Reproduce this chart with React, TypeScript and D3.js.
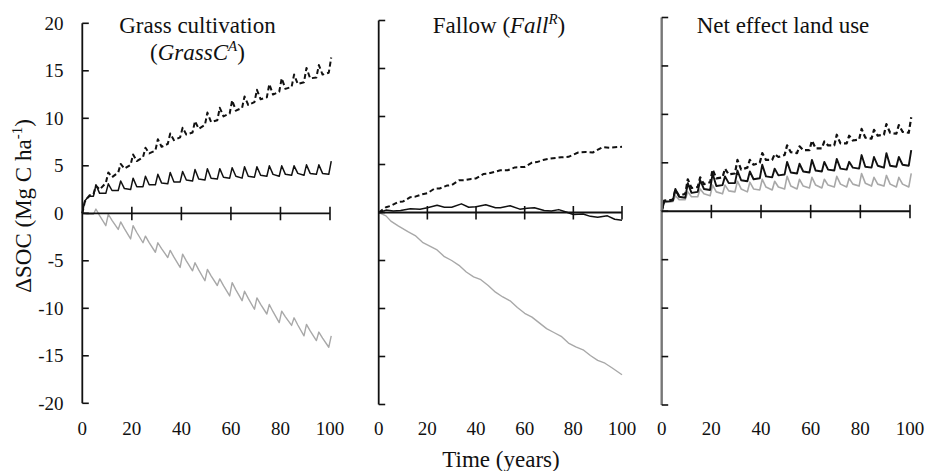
import React from 'react';
import * as d3 from 'd3';

// ---------- shared axis data ----------
const PEAK_YEARS = [5, 10, 15, 20, 25, 30, 35, 40, 45, 50, 55, 60, 65, 70, 75, 80, 85, 90, 95, 100];
const X_TICKS = [0, 20, 40, 60, 80, 100];
const X_TICK_MARKS = [20, 40, 60, 80, 100];
const Y_TICKS = [-20, -15, -10, -5, 0, 5, 10, 15, 20];

// ---------- Grass cultivation (GrassC^A) ----------
const grassDashedEarlyYears = [0, 1, 2, 3];
const grassDashedEarly = [0, 1.2, 1.6, 1.9];
const grassDashedTrough = [2.0, 3.2, 4.3, 5.1, 5.9, 6.6, 7.3, 8.0, 8.5, 9.3, 9.8, 10.5, 11.1, 11.7, 12.2, 12.8, 13.3, 13.8, 14.3, 14.8];
const grassDashedPeak = [2.9, 4.3, 5.2, 6.2, 6.9, 7.8, 8.4, 9.0, 9.7, 10.6, 11.1, 11.9, 12.3, 13.0, 13.6, 14.2, 14.6, 15.3, 15.6, 16.4];
const grassDashedAfter = [2.5, 3.8, 4.7, 5.5, 6.3, 7.0, 7.7, 8.3, 8.9, 9.6, 10.2, 10.8, 11.4, 12.0, 12.5, 13.1, 13.6, 14.2, 14.6];

const grassSolidEarlyYears = [0, 1, 2, 3];
const grassSolidEarly = [0, 1.3, 1.6, 1.8];
const grassSolidTrough = [1.8, 2.1, 2.4, 2.5, 2.8, 3.0, 3.1, 3.3, 3.4, 3.5, 3.6, 3.7, 3.7, 3.8, 3.9, 3.9, 4.0, 4.0, 4.1, 4.1];
const grassSolidPeak = [3.0, 3.1, 3.4, 3.7, 3.9, 4.1, 4.3, 4.4, 4.6, 4.7, 4.7, 4.8, 4.9, 4.9, 5.0, 5.0, 5.0, 5.1, 5.1, 5.5];
const grassSolidAfter = [2.1, 2.4, 2.6, 2.8, 3.0, 3.2, 3.3, 3.5, 3.6, 3.7, 3.8, 3.9, 3.9, 4.0, 4.1, 4.1, 4.2, 4.2, 4.2];

const grassGrayEarlyYears = [0, 2];
const grassGrayEarly = [0, -0.1];
const grassGrayTrough = [-0.1, -1.3, -1.7, -2.7, -3.1, -4.1, -4.65, -5.7, -6.05, -7.1, -7.6, -8.7, -9.2, -10.1, -10.6, -11.5, -11.8, -12.9, -13.4, -14.1];
const grassGrayPeak = [0.45, -0.1, -0.9, -1.3, -2.4, -3.1, -3.9, -4.3, -5.2, -5.9, -6.9, -7.3, -8.2, -8.9, -9.6, -10.3, -11.0, -11.7, -12.5, -12.9];
const grassGrayAfter = [-0.25, -0.74, -1.62, -2.02, -3.08, -3.72, -4.62, -5.0, -5.96, -6.58, -7.62, -8.06, -8.96, -9.58, -10.36, -10.9, -11.76, -12.38, -13.14];

// ---------- Fallow (Fall^R) ----------
const fallDashedYears = [0, 3, 5, 8, 10, 13, 15, 18, 20, 23, 25, 28, 30, 33, 35, 38, 40, 43, 45, 50, 53, 56, 60, 63, 65, 68, 70, 75, 78, 82, 85, 88, 92, 95, 100];
const fallDashed = [0, 0.55, 0.7, 1.1, 1.15, 1.6, 1.65, 1.9, 2.0, 2.5, 2.5, 2.8, 2.85, 3.35, 3.35, 3.5, 3.55, 4.0, 4.05, 4.4, 4.4, 4.7, 4.75, 5.2, 5.25, 5.5, 5.6, 5.75, 5.8, 6.25, 6.3, 6.25, 6.8, 6.75, 6.85];

const fallSolidYears = [0, 3, 6, 9, 13, 17, 20, 24, 27, 30, 34, 37, 40, 44, 48, 50, 54, 58, 61, 64, 68, 71, 74, 77, 80, 84, 87, 90, 94, 97, 100];
const fallSolid = [0, 0.25, 0.15, 0.2, 0.4, 0.35, 0.5, 0.75, 0.55, 0.55, 0.9, 0.55, 0.6, 0.8, 0.5, 0.5, 0.7, 0.35, 0.45, 0.5, 0.2, 0.15, 0.3, 0.05, -0.2, -0.15, -0.4, -0.5, -0.35, -0.7, -0.8];

const fallGrayYears = [0, 3, 5, 8, 12, 15, 18, 21, 24, 27, 30, 33, 36, 39, 42, 45, 48, 51, 54, 57, 60, 63, 66, 69, 72, 75, 78, 81, 84, 87, 90, 93, 96, 100];
const fallGray = [0, -0.35, -0.9, -1.4, -2.0, -2.4, -3.1, -3.5, -3.9, -4.6, -5.0, -5.5, -6.2, -6.7, -7.0, -7.6, -8.3, -8.8, -9.2, -9.9, -10.5, -10.9, -11.5, -12.1, -12.5, -12.9, -13.6, -14.0, -14.3, -14.9, -15.4, -15.7, -16.2, -16.9];

// ---------- Net effect land use ----------
const netDashedEarlyYears = [0, 1, 3.5];
const netDashedEarly = [0, 1.1, 1.15];
const netDashedTrough = [1.2, 1.8, 2.5, 3.0, 3.5, 3.9, 4.5, 5.0, 5.3, 5.8, 6.0, 6.3, 6.5, 6.8, 7.0, 7.4, 7.5, 7.9, 8.0, 8.1];
const netDashedPeak = [2.2, 3.3, 3.5, 4.3, 4.4, 5.3, 5.3, 6.0, 5.9, 6.8, 6.7, 7.3, 7.2, 7.9, 7.8, 8.5, 8.4, 9.0, 8.9, 9.7];
const netDashedAfter = [1.6, 2.4, 2.8, 3.4, 3.8, 4.3, 4.8, 5.3, 5.6, 6.1, 6.3, 6.5, 6.8, 7.0, 7.3, 7.6, 7.8, 8.1, 8.2];

const netSolidEarlyYears = [0, 1, 3.5];
const netSolidEarly = [0, 1.0, 1.05];
const netSolidTrough = [1.1, 1.4, 2.0, 2.2, 2.7, 2.9, 3.1, 3.4, 3.5, 3.8, 3.9, 4.0, 4.1, 4.2, 4.3, 4.4, 4.5, 4.5, 4.6, 4.7];
const netSolidPeak = [2.3, 2.9, 3.2, 3.9, 3.6, 4.2, 4.1, 4.8, 4.4, 5.1, 4.9, 5.3, 5.1, 5.4, 5.1, 5.8, 5.6, 6.0, 5.6, 6.3];
const netSolidAfter = [1.5, 1.9, 2.3, 2.6, 2.9, 3.2, 3.3, 3.6, 3.7, 4.0, 4.1, 4.2, 4.3, 4.4, 4.5, 4.6, 4.7, 4.7, 4.8];

const netGrayEarlyYears = [0, 1, 3.5];
const netGrayEarly = [0, 0.9, 0.95];
const netGrayTrough = [1.0, 1.2, 1.5, 1.6, 1.8, 2.0, 2.0, 2.2, 2.2, 2.3, 2.3, 2.4, 2.4, 2.5, 2.5, 2.6, 2.6, 2.6, 2.5, 2.5];
const netGrayPeak = [1.6, 2.0, 2.3, 2.7, 2.7, 3.1, 3.0, 3.3, 3.1, 3.6, 3.3, 3.5, 3.3, 3.6, 3.4, 3.9, 3.5, 3.7, 3.5, 3.9];
const netGrayAfter = [1.2, 1.5, 1.8, 2.0, 2.1, 2.3, 2.3, 2.5, 2.5, 2.6, 2.6, 2.7, 2.7, 2.8, 2.8, 2.9, 2.8, 2.8, 2.8];

// ---------- helpers ----------
type Pt = [number, number];

function sawPoints(earlyYears: number[], early: number[], trough: number[], peak: number[], after: number[]): Pt[] {
  const pts: Pt[] = earlyYears.map((y, i) => [y, early[i]] as Pt);
  PEAK_YEARS.forEach((p, i) => {
    pts.push([p - 0.5, trough[i]]);
    pts.push([p + 0.5, peak[i]]);
    if (i < after.length) pts.push([p + 2, after[i]]);
  });
  return pts;
}

function zipPoints(years: number[], vals: number[]): Pt[] {
  return years.map((y, i) => [y, vals[i]] as Pt);
}

const FONT = "'Liberation Serif', 'Times New Roman', Times, serif";
const GRAY = '#a8a8a8';

type SeriesDef = { pts: Pt[]; color: string; width: number; dash?: string };
type PanelDef = {
  x0: number; x1: number; yBottom: number; yTop: number;
  axisColor: string; axisWidth: number;
  series: SeriesDef[];
};

const panels: PanelDef[] = [
  {
    x0: 82.3, x1: 330, yBottom: 403.3, yTop: 23.3, axisColor: '#111', axisWidth: 1.8,
    series: [
      { pts: sawPoints(grassGrayEarlyYears, grassGrayEarly, grassGrayTrough, grassGrayPeak, grassGrayAfter), color: GRAY, width: 1.4 },
      { pts: sawPoints(grassSolidEarlyYears, grassSolidEarly, grassSolidTrough, grassSolidPeak, grassSolidAfter), color: '#111', width: 1.5 },
      { pts: sawPoints(grassDashedEarlyYears, grassDashedEarly, grassDashedTrough, grassDashedPeak, grassDashedAfter), color: '#111', width: 2, dash: '5,3' },
    ],
  },
  {
    x0: 378.7, x1: 622, yBottom: 404.5, yTop: 20.5, axisColor: '#111', axisWidth: 1.8,
    series: [
      { pts: zipPoints(fallGrayYears, fallGray), color: GRAY, width: 1.4 },
      { pts: zipPoints(fallSolidYears, fallSolid), color: '#111', width: 1.5 },
      { pts: zipPoints(fallDashedYears, fallDashed), color: '#111', width: 2, dash: '5,3' },
    ],
  },
  {
    x0: 661.7, x1: 910, yBottom: 405, yTop: 17.5, axisColor: '#777', axisWidth: 2.4,
    series: [
      { pts: sawPoints(netGrayEarlyYears, netGrayEarly, netGrayTrough, netGrayPeak, netGrayAfter), color: GRAY, width: 1.6 },
      { pts: sawPoints(netSolidEarlyYears, netSolidEarly, netSolidTrough, netSolidPeak, netSolidAfter), color: '#111', width: 1.9 },
      { pts: sawPoints(netDashedEarlyYears, netDashedEarly, netDashedTrough, netDashedPeak, netDashedAfter), color: '#111', width: 2.2, dash: '5,3' },
    ],
  },
];

function Panel({ p, showYLabels }: { p: PanelDef; showYLabels: boolean }) {
  const x = d3.scaleLinear().domain([0, 100]).range([p.x0, p.x1]);
  const y = d3.scaleLinear().domain([-20, 20]).range([p.yBottom, p.yTop]);
  const line = d3.line<Pt>().x(d => x(d[0])).y(d => y(d[1]));
  const y0 = y(0);
  return (
    <g>
      {p.series.map((s, i) => (
        <path key={i} d={line(s.pts) || ''} fill="none" stroke={s.color} strokeWidth={s.width}
          strokeDasharray={s.dash} strokeLinejoin="round" />
      ))}
      {/* y axis */}
      <line x1={p.x0} x2={p.x0} y1={y(-20)} y2={y(20)} stroke={p.axisColor} strokeWidth={p.axisWidth} />
      {Y_TICKS.map(t => (
        <line key={t} x1={p.x0} x2={p.x0 + 6.5} y1={y(t)} y2={y(t)} stroke="#111" strokeWidth={1.6} />
      ))}
      {showYLabels && Y_TICKS.map(t => (
        <text key={'yl' + t} x={63.5} y={y(t)} dy="0.35em" textAnchor="end" fontSize={19} fontFamily={FONT} fill="#111">{t}</text>
      ))}
      {/* x axis at zero */}
      <line x1={p.x0} x2={p.x1} y1={y0} y2={y0} stroke="#111" strokeWidth={1.8} />
      {X_TICK_MARKS.map(t => (
        <line key={t} x1={x(t)} x2={x(t)} y1={y0 - 6.5} y2={y0 + 7} stroke="#111" strokeWidth={1.6} />
      ))}
      {X_TICKS.map(t => (
        <text key={'xl' + t} x={x(t)} y={435} textAnchor="middle" fontSize={19} fontFamily={FONT} fill="#111">{t}</text>
      ))}
    </g>
  );
}

export default function App() {
  return (
    <svg width={927} height={471} viewBox="0 0 927 471"
      style={{ position: 'absolute', left: 0, top: 0, background: '#fff' }}>
      <rect x={0} y={0} width={927} height={471} fill="#fff" />
      {panels.map((p, i) => <Panel key={i} p={p} showYLabels={i === 0} />)}

      {/* titles */}
      <text x={197.5} y={33} textAnchor="middle" fontSize={23} fontFamily={FONT} fill="#111">Grass cultivation</text>
      <text x={197.5} y={60} textAnchor="middle" fontSize={23} fontFamily={FONT} fill="#111">
        (<tspan fontStyle="italic">GrassC</tspan><tspan fontStyle="italic" fontSize={15} dy={-9}>A</tspan><tspan dy={9}>)</tspan>
      </text>
      <text x={499} y={33} textAnchor="middle" fontSize={23} fontFamily={FONT} fill="#111">
        Fallow (<tspan fontStyle="italic">Fall</tspan><tspan fontStyle="italic" fontSize={15} dy={-9}>R</tspan><tspan dy={9}>)</tspan>
      </text>
      <text x={783} y={33} textAnchor="middle" fontSize={23} fontFamily={FONT} fill="#111">Net effect land use</text>

      {/* axis titles */}
      <text x={501} y={467} textAnchor="middle" fontSize={23} fontFamily={FONT} fill="#111">Time (years)</text>
      <text transform="translate(31,206) rotate(-90)" textAnchor="middle" fontSize={23} fontFamily={FONT} fill="#111">
        ΔSOC (Mg C ha<tspan fontSize={15} dy={-9}>-1</tspan><tspan dy={9}>)</tspan>
      </text>
    </svg>
  );
}
